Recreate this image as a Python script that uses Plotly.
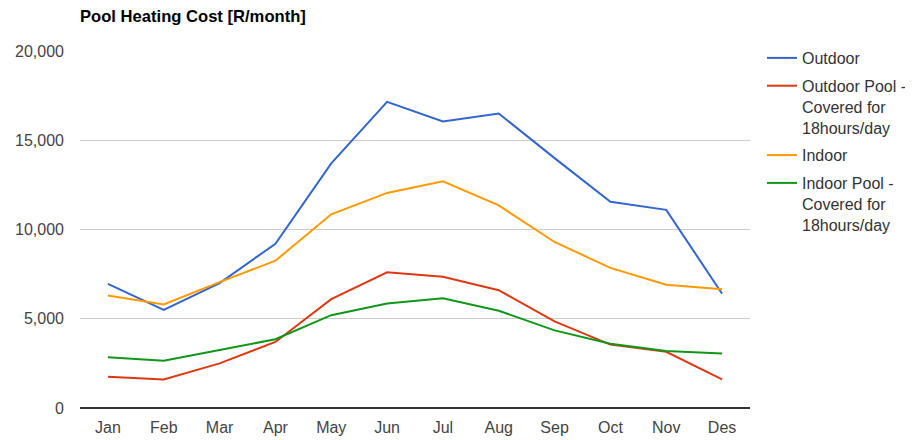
import plotly.graph_objects as go

months = ["Jan", "Feb", "Mar", "Apr", "May", "Jun", "Jul", "Aug", "Sep", "Oct", "Nov", "Des"]
outdoor = [6950, 5500, 7000, 9200, 13700, 17150, 16050, 16500, 14000, 11550, 11100, 6400]
outdoor_covered = [1750, 1600, 2500, 3700, 6100, 7600, 7350, 6600, 4850, 3550, 3150, 1600]
indoor = [6300, 5800, 7050, 8250, 10850, 12050, 12700, 11350, 9300, 7850, 6900, 6650]
indoor_covered = [2850, 2650, 3250, 3850, 5200, 5850, 6150, 5450, 4350, 3600, 3200, 3050]

series_names = ["Outdoor", "Outdoor Pool -<br>Covered for<br>18hours/day", "Indoor",
                "Indoor Pool -<br>Covered for<br>18hours/day"]
series_values = [outdoor, outdoor_covered, indoor, indoor_covered]
colors = ["#3366cc", "#dc3912", "#ff9900", "#109618"]

y_ticks = [0, 5000, 10000, 15000, 20000]
y_tick_labels = ["0", "5,000", "10,000", "15,000", "20,000"]

FONT = "Liberation Sans, Arial, sans-serif"

# The page body has an 8px default margin, so the figure is laid out in
# coordinates offset by 8px from the window.
W, H = 940, 432
PL, PR, PT, PB = 72, 742, 43, 400   # plot area in figure coordinates

fig = go.Figure()
for i, (name, vals, c) in enumerate(zip(series_names, series_values, colors)):
    fig.add_trace(go.Scatter(x=months, y=vals, name=name, mode="lines",
                             legendgroup=f"g{i}",
                             line=dict(color=c, width=2)))

fig.update_layout(
    width=W, height=H,
    margin=dict(l=PL, r=W - PR, t=PT, b=H - PB),
    paper_bgcolor="white", plot_bgcolor="white",
    font=dict(family=FONT, size=16, color="#444444"),
    title=dict(text="<b>Pool Heating Cost [R/month]</b>", x=PL / W, xanchor="left",
               y=1 - 8.5 / H, yanchor="middle", font=dict(size=16.6, color="#000000")),
    showlegend=True,
    legend=dict(x=1 + 12 / (PR - PL), xanchor="left", y=1 + 10 / (PB - PT), yanchor="top",
                valign="top", tracegroupgap=4,
                font=dict(size=16, color="#333333"), bgcolor="rgba(0,0,0,0)"),
    xaxis=dict(showgrid=False, showline=False, zeroline=False, ticks="",
               range=[-0.5, 11.5], automargin=False,
               tickfont=dict(size=16, color="#444444"), ticklabelstandoff=8),
    yaxis=dict(range=[0, 20000], tickvals=y_ticks, ticktext=y_tick_labels,
               showgrid=True, gridcolor="#cccccc", gridwidth=1, automargin=False,
               zeroline=True, zerolinecolor="#333333", zerolinewidth=1.5,
               showline=False, ticks="", ticklabelstandoff=15,
               tickfont=dict(size=16, color="#444444")),
)

fig.write_html("out.html")
